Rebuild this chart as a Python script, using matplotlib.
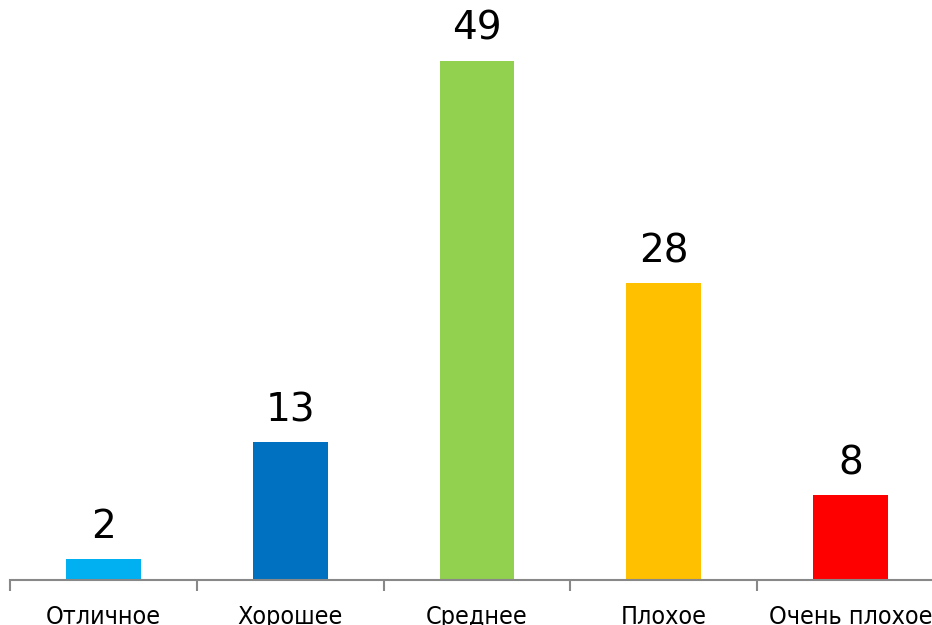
import matplotlib.pyplot as plt
from matplotlib.ticker import FixedLocator

# Оценка качества: распределение ответов
categories = ['Отличное', 'Хорошее', 'Среднее', 'Плохое', 'Очень плохое']
values = [2, 13, 49, 28, 8]
colors = ['#00B0F0', '#0070C0', '#92D050', '#FFC000', '#FF0000']

W, H = 932, 625
fig = plt.figure(figsize=(W / 100, H / 100), dpi=100)
# axis runs a little past the right edge of the canvas
left, right, bottom = 10, 944, 45
ymax = 54
px_per_unit = 10.59
ax = fig.add_axes([left / W, bottom / H, (right - left) / W, ymax * px_per_unit / H])

x = range(len(categories))
bars = ax.bar(x, values, width=0.40, color=colors)
ax.set_xlim(-0.5, len(categories) - 0.5)
ax.set_ylim(0, ymax)

for b, v in zip(bars, values):
    ax.text(b.get_x() + b.get_width() / 2, v + 1.25, str(v), ha='center', va='bottom',
            fontsize=28, family=['DejaVu Sans'], color='black')

for s in ['top', 'right', 'left']:
    ax.spines[s].set_visible(False)
ax.spines['bottom'].set_color('#888888')
ax.spines['bottom'].set_linewidth(1.5)
ax.set_yticks([])

ax.set_xticks(list(x))
ax.set_xticklabels(categories, fontsize=18, family=['DejaVu Sans'], fontstretch='condensed')
ax.tick_params(axis='x', which='major', length=0, pad=18)
ax.xaxis.set_minor_locator(FixedLocator([i - 0.5 for i in range(len(categories) + 1)]))
ax.tick_params(axis='x', which='minor', length=8, width=1.5, color='#888888')

fig.savefig('out.png', dpi=100)
